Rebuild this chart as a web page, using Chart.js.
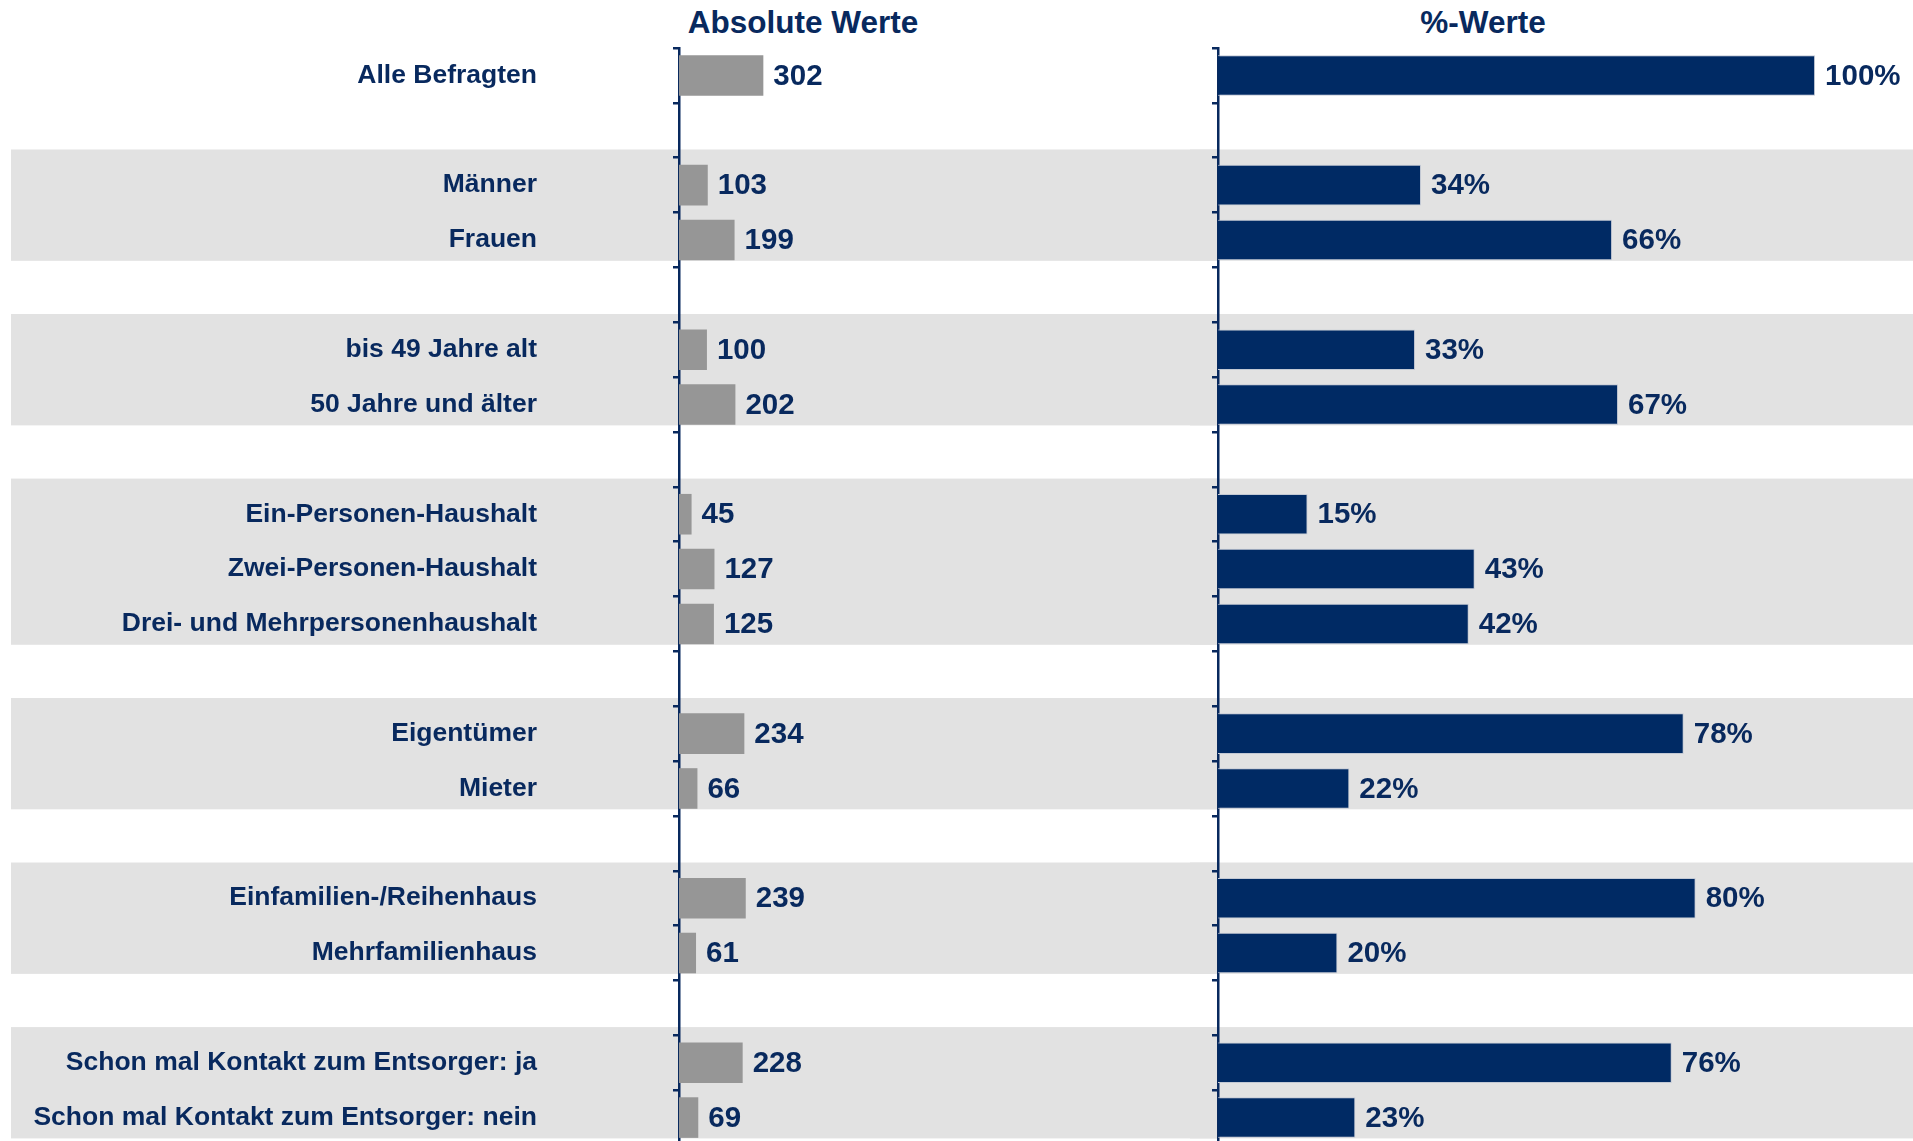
<!DOCTYPE html>
<html lang="de">
<head>
<meta charset="utf-8">
<title>Absolute Werte / %-Werte</title>
<script src="https://cdn.jsdelivr.net/npm/chart.js@4.4.1/dist/chart.umd.min.js"></script>
<style>
  html, body { margin: 0; padding: 0; background: #fff; }
  body { width: 1913px; height: 1141px; position: relative; overflow: hidden; font-family: "Liberation Sans", Arial, sans-serif; }
  canvas { position: absolute; top: 0; }
  #absChart { left: 0; }
  #pctChart { left: 1190px; }
  .title { position: absolute; top: 0; color: #08295e; font-weight: bold; font-size: 31.5px; line-height: 44px; transform: translateX(-50%); white-space: nowrap; }
</style>
</head>
<body>
<div class="title" style="left:803px">Absolute Werte</div>
<div class="title" style="left:1483px">%-Werte</div>
<!-- the plot runs a few px past the bottom edge, as in the original slide -->
<canvas id="absChart" width="1218" height="1145"></canvas>
<canvas id="pctChart" width="723" height="1145"></canvas>
<script>
const categories = [
  "Alle Befragten", "",
  "Männer", "Frauen", "",
  "bis 49 Jahre alt", "50 Jahre und älter", "",
  "Ein-Personen-Haushalt", "Zwei-Personen-Haushalt", "Drei- und Mehrpersonenhaushalt", "",
  "Eigentümer", "Mieter", "",
  "Einfamilien-/Reihenhaus", "Mehrfamilienhaus", "",
  "Schon mal Kontakt zum Entsorger: ja", "Schon mal Kontakt zum Entsorger: nein"
];
const absoluteValues = [302, null, 103, 199, null, 100, 202, null, 45, 127, 125, null, 234, 66, null, 239, 61, null, 228, 69];
const percentValues = [100, null, 34, 66, null, 33, 67, null, 15, 43, 42, null, 78, 22, null, 80, 20, null, 76, 23];
// rows that share a grey band (first and last row index)
const bandGroups = [[2, 3], [5, 6], [8, 10], [12, 13], [15, 16], [18, 19]];

const navy = "#08295e";
const font = "'Liberation Sans', Arial, sans-serif";

// grey bands behind the groups, drawn before the axes
const bandPlugin = {
  id: "bands",
  beforeDraw(chart, args, opts) {
    const y = chart.scales.y;
    const ctx = chart.ctx;
    ctx.save();
    ctx.fillStyle = "#e2e2e2";
    bandGroups.forEach(([a, b]) => {
      const top = y.getPixelForValue(a - 0.65);
      const bottom = y.getPixelForValue(b + 0.38);
      ctx.fillRect(opts.left, top, chart.width - opts.left, bottom - top);
    });
    ctx.restore();
  }
};

// number next to each bar
const valueLabels = {
  id: "valueLabels",
  afterDatasetsDraw(chart, args, opts) {
    const ctx = chart.ctx;
    const values = chart.data.datasets[0].data;
    ctx.save();
    ctx.font = "bold 29.5px " + font;
    ctx.fillStyle = navy;
    ctx.textAlign = "left";
    ctx.textBaseline = "middle";
    chart.getDatasetMeta(0).data.forEach((bar, i) => {
      if (values[i] == null) return;
      ctx.fillText(values[i] + opts.suffix, bar.x + 10, bar.y + 1);
    });
    ctx.restore();
  }
};

const yAxis = (width, showLabels) => ({
  afterFit(scale) {
    scale.width = width;
    scale.paddingTop = 0;
    scale.paddingBottom = 0;
  },
  border: { color: navy, width: 2.5 },
  grid: { drawOnChartArea: false, color: navy, lineWidth: 2.5, tickLength: 6 },
  ticks: {
    display: showLabels,
    autoSkip: false,
    color: navy,
    padding: 136,
    font: { family: font, size: 26.5, weight: "bold" }
  }
});

new Chart(document.getElementById("absChart"), {
  type: "bar",
  data: {
    labels: categories,
    datasets: [{ data: absoluteValues, backgroundColor: "#969696", barPercentage: 0.74, categoryPercentage: 1 }]
  },
  options: {
    indexAxis: "y",
    responsive: false,
    animation: false,
    layout: { padding: { top: 48, left: 0, right: 0, bottom: 0 } },
    scales: {
      x: { display: false, min: 0, max: 1930 },
      y: yAxis(679, true)
    },
    plugins: {
      legend: { display: false },
      tooltip: { enabled: false },
      bands: { left: 11 },
      valueLabels: { suffix: "" }
    }
  },
  plugins: [bandPlugin, valueLabels]
});

new Chart(document.getElementById("pctChart"), {
  type: "bar",
  data: {
    labels: categories,
    datasets: [{
      data: percentValues, backgroundColor: "#002a64", borderColor: "#c3c9d4", borderWidth: 1,
      barPercentage: 0.74, categoryPercentage: 1
    }]
  },
  options: {
    indexAxis: "y",
    responsive: false,
    animation: false,
    layout: { padding: { top: 48, left: 0, right: 0, bottom: 0 } },
    scales: {
      x: { display: false, min: 0, max: 116.4 },
      y: yAxis(28, false)
    },
    plugins: {
      legend: { display: false },
      tooltip: { enabled: false },
      bands: { left: 0 },
      valueLabels: { suffix: "%" }
    }
  },
  plugins: [bandPlugin, valueLabels]
});
</script>
</body>
</html>
